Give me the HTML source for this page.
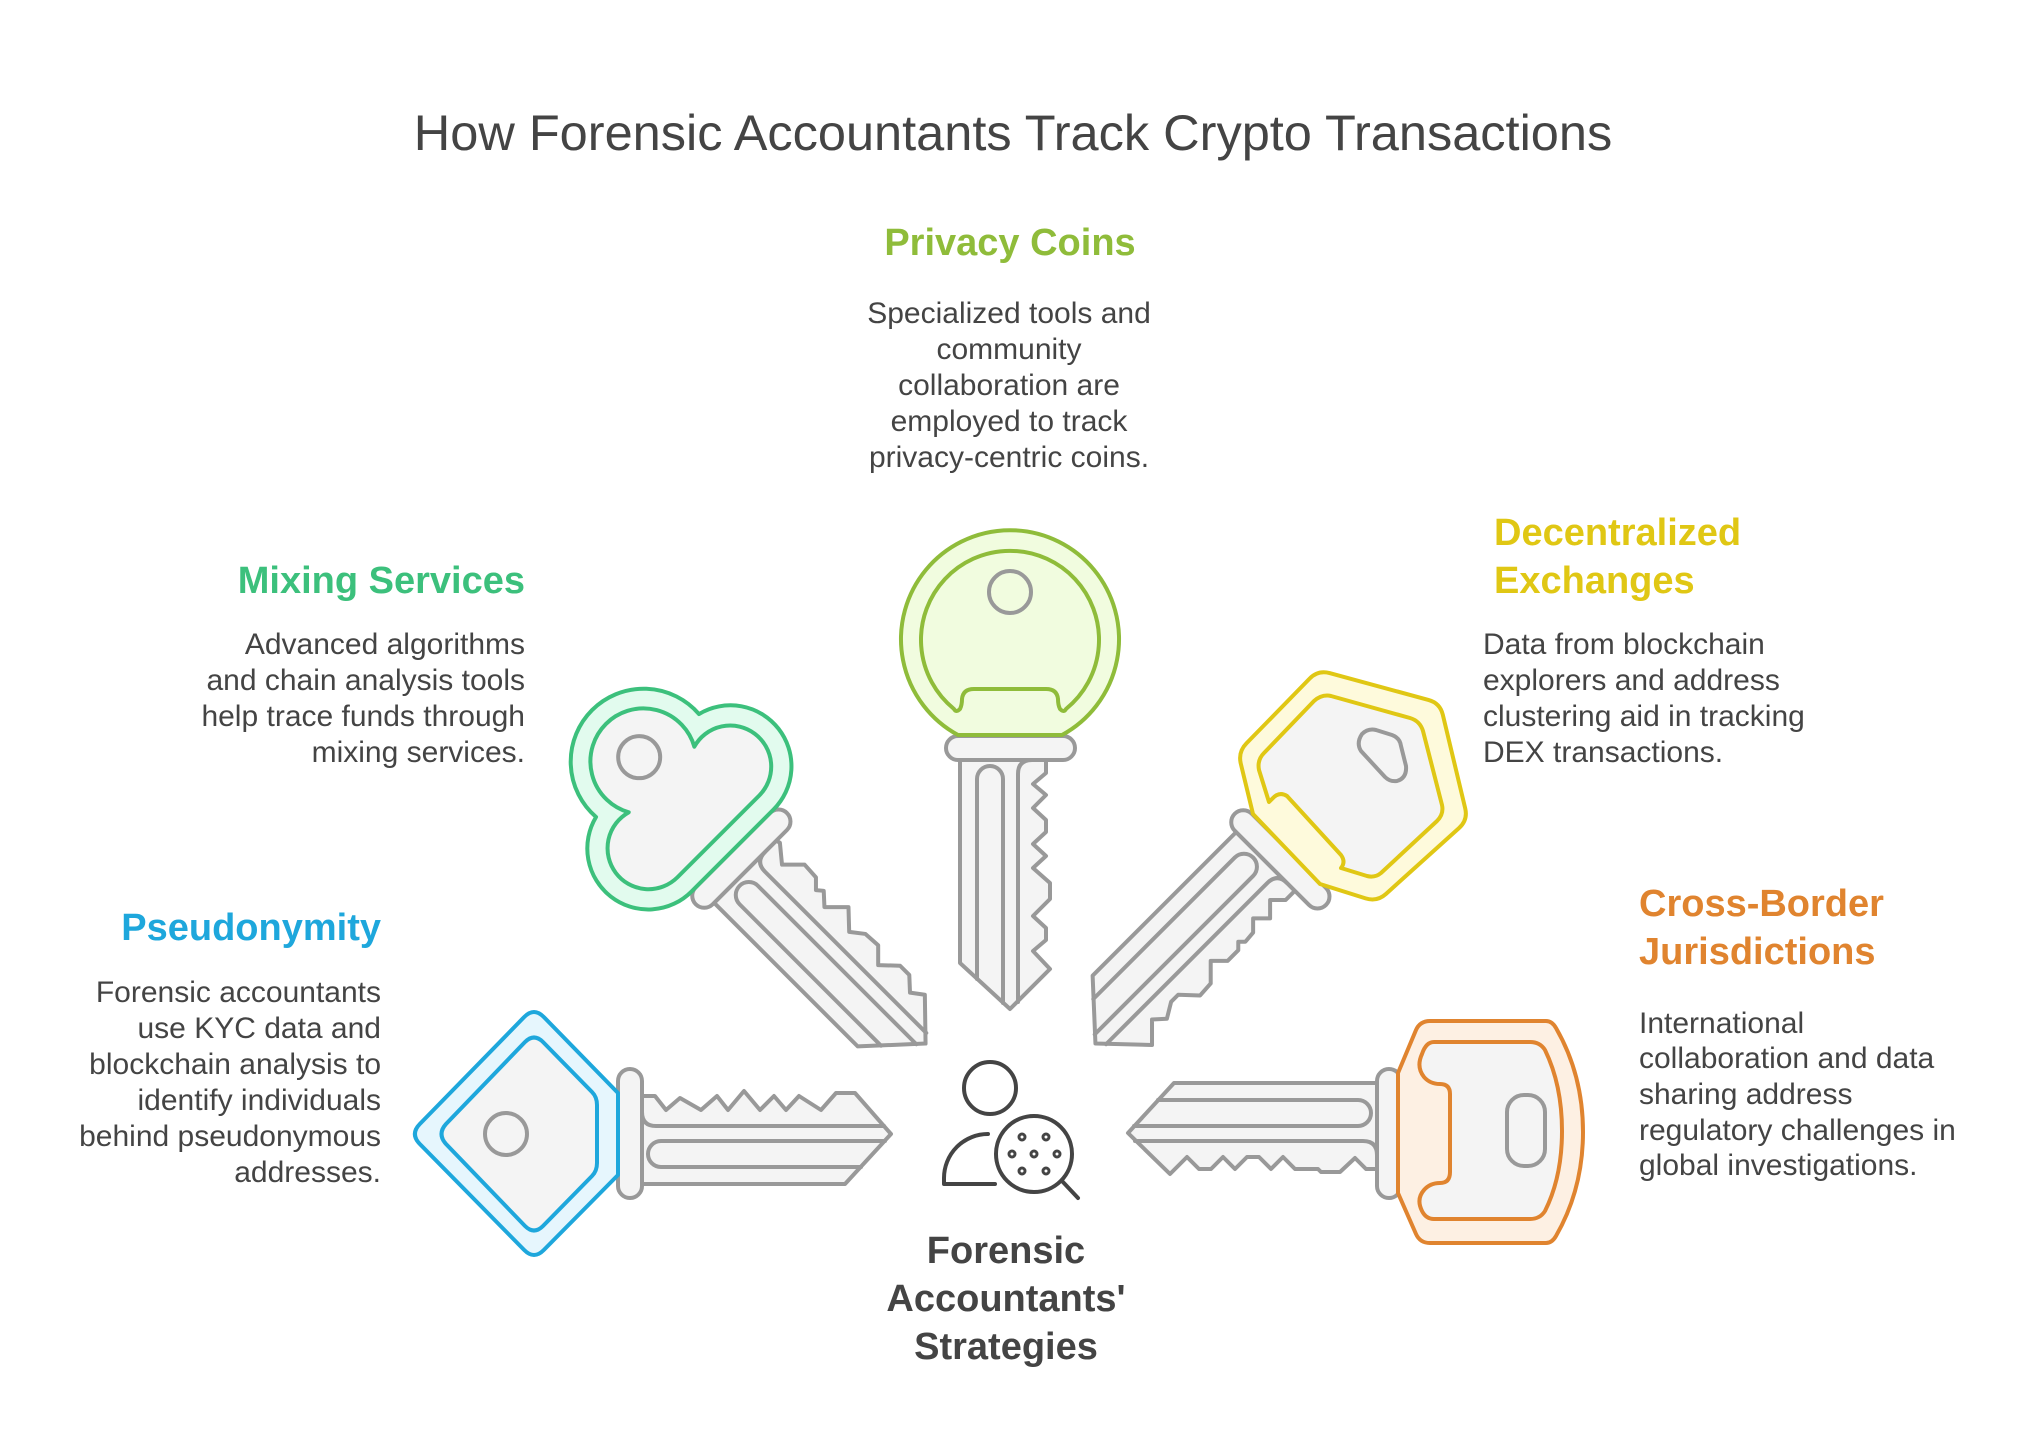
<!DOCTYPE html>
<html>
<head>
<meta charset="utf-8">
<style>
html,body{margin:0;padding:0;background:#ffffff;}
svg{display:block;}
text{font-family:"Liberation Sans",Arial,sans-serif;}
.t{fill:#444444;font-size:30px;}
.h{font-size:38px;font-weight:bold;}
.bl{fill:#f4f4f4;stroke:#999999;stroke-width:4;stroke-linejoin:round;stroke-linecap:round;}
.ln{fill:none;stroke:#999999;stroke-width:4;stroke-linejoin:round;stroke-linecap:round;}
.ic{fill:none;stroke:#444444;stroke-width:4;stroke-linecap:round;stroke-linejoin:round;}
</style>
</head>
<body>
<svg width="2022" height="1444" viewBox="0 0 2022 1444" xmlns="http://www.w3.org/2000/svg">
<rect width="2022" height="1444" fill="#ffffff"/>

<!-- Title -->
<text x="1013" y="150" text-anchor="middle" font-size="50.5" fill="#444444">How Forensic Accountants Track Crypto Transactions</text>

<!-- Privacy Coins text -->
<text class="h" x="1010" y="255" text-anchor="middle" fill="#8fbc3a">Privacy Coins</text>
<text class="t" text-anchor="middle"><tspan x="1009" y="323">Specialized tools and</tspan><tspan x="1009" y="359">community</tspan><tspan x="1009" y="395">collaboration are</tspan><tspan x="1009" y="431">employed to track</tspan><tspan x="1009" y="467">privacy-centric coins.</tspan></text>

<!-- Mixing Services text -->
<text class="h" x="525" y="593" text-anchor="end" fill="#3cc07c">Mixing Services</text>
<text class="t" text-anchor="end"><tspan x="525" y="654">Advanced algorithms</tspan><tspan x="525" y="690">and chain analysis tools</tspan><tspan x="525" y="726">help trace funds through</tspan><tspan x="525" y="762">mixing services.</tspan></text>

<!-- Pseudonymity text -->
<text class="h" x="381" y="940" text-anchor="end" fill="#1ea7dc">Pseudonymity</text>
<text class="t" text-anchor="end"><tspan x="381" y="1002">Forensic accountants</tspan><tspan x="381" y="1038">use KYC data and</tspan><tspan x="381" y="1074">blockchain analysis to</tspan><tspan x="381" y="1110">identify individuals</tspan><tspan x="381" y="1146">behind pseudonymous</tspan><tspan x="381" y="1182">addresses.</tspan></text>

<!-- Decentralized Exchanges text -->
<text class="h" fill="#e0c714"><tspan x="1494" y="545">Decentralized</tspan><tspan x="1494" y="593">Exchanges</tspan></text>
<text class="t"><tspan x="1483" y="654">Data from blockchain</tspan><tspan x="1483" y="690">explorers and address</tspan><tspan x="1483" y="726">clustering aid in tracking</tspan><tspan x="1483" y="762">DEX transactions.</tspan></text>

<!-- Cross-Border text -->
<text class="h" fill="#e0842f"><tspan x="1639" y="916">Cross-Border</tspan><tspan x="1639" y="964">Jurisdictions</tspan></text>
<text class="t"><tspan x="1639" y="1033">International</tspan><tspan x="1639" y="1068">collaboration and data</tspan><tspan x="1639" y="1104">sharing address</tspan><tspan x="1639" y="1140">regulatory challenges in</tspan><tspan x="1639" y="1175">global investigations.</tspan></text>

<!-- Center label -->
<text class="h" fill="#444444" text-anchor="middle"><tspan x="1006" y="1263">Forensic</tspan><tspan x="1006" y="1311">Accountants'</tspan><tspan x="1006" y="1359">Strategies</tspan></text>

<!-- Center icon -->
<circle class="ic" cx="990" cy="1088" r="26"/>
<path class="ic" d="M988,1134 A44,44 0 0 0 944,1178 L944,1184 L995,1184"/>
<circle class="ic" cx="1034" cy="1154" r="38"/>
<line class="ic" x1="1062" y1="1181" x2="1078" y2="1198"/>
<g fill="none" stroke="#444444" stroke-width="3">
<circle cx="1022" cy="1137" r="3"/><circle cx="1046" cy="1137" r="3"/>
<circle cx="1012" cy="1154" r="3"/><circle cx="1034" cy="1154" r="3"/><circle cx="1057" cy="1154" r="3"/>
<circle cx="1022" cy="1171" r="3"/><circle cx="1046" cy="1171" r="3"/>
</g>

<!-- ============ BLUE KEY (Pseudonymity) ============ -->
<g transform="translate(630,1134)">
<path class="bl" d="M12,-38 L25,-38 L36,-24 L50,-36 L71,-24 L87,-38 L98,-24 L114,-43 L130,-24 L144,-38 L156,-24 L169,-38 L191,-24 L206,-41 L225,-41 L261,0 L215,50 L12,50 Z"/>
<path class="ln" d="M12,-22 Q12,-8 26,-8 L254,-8"/>
<path class="ln" d="M255,7 L31,7 A13,13 0 0 0 31,33 L231,33"/>
<rect class="bl" x="-12" y="-65" width="24" height="129" rx="12"/>
</g>
<path d="M419.8,1124 L524.2,1017 Q534,1007 543.8,1017 L618,1093 L618,1175 L543.8,1250 Q534,1260 524.2,1250 L419.8,1144 Q410,1134 419.8,1124 Z" fill="#e6f6fd" stroke="#1ea7dc" stroke-width="4" stroke-linejoin="round"/>
<path d="M446,1124 L525,1042 Q534,1033 543,1042 L592,1092 Q597,1097 597,1105 L597,1163 Q597,1171 592,1176 L543,1226 Q534,1235 525,1226 L446,1144 Q437,1134 446,1124 Z" fill="#f4f4f4" stroke="#1ea7dc" stroke-width="4" stroke-linejoin="round"/>
<circle cx="506" cy="1134" r="21" fill="none" stroke="#999999" stroke-width="4"/>

<!-- ============ GREEN KEY (Mixing Services) ============ -->
<g transform="translate(741,859) rotate(45)">
<path class="bl" d="M12,-38 L16,-39 L33,-25 L49,-41 L66,-40 L75,-31 L81,-36 L93,-25 L110,-42 L128,-25 L141,-35 L158,-36 L172,-22 L188,-37 L201,-37 L214,-25 L226,-34 L261,0 L215,50 L12,50 Z"/>
<path class="ln" d="M12,-22 Q12,-8 26,-8 L254,-8"/>
<path class="ln" d="M255,7 L31,7 A13,13 0 0 0 31,33 L231,33"/>
<rect class="bl" x="-12" y="-65" width="24" height="129" rx="12"/>
<path d="M-12,58 L-12,-58 A61,61 0 0 0 -132.2,-72.8 A73,73 0 1 0 -132.2,72.8 A61,61 0 0 0 -12,58 Z" fill="#e2fbee" stroke="#3cc07c" stroke-width="4" stroke-linejoin="round"/>
<path d="M-32,58 L-32,-58 A41,41 0 1 0 -112.4,-46.4 A53,53 0 1 0 -112.4,46.4 A41,41 0 1 0 -32,58 Z" fill="#f4f4f4" stroke="#3cc07c" stroke-width="4" stroke-linejoin="round"/>
<circle cx="-144" cy="0" r="21" fill="none" stroke="#999999" stroke-width="4"/>
</g>

<!-- ============ LIME KEY (Privacy Coins) ============ -->
<g transform="translate(1010,748) rotate(90)">
<path class="bl" d="M12,-36 L25,-36 L36,-23 L47,-36 L60,-23 L72,-36 L84,-36 L96,-23 L108,-36 L120,-23 L135,-40 L151,-40 L168,-23 L180,-36 L192,-36 L203,-23 L221,-40 L261,0 L215,50 L12,50 Z"/>
<path class="ln" d="M12,-22 Q12,-8 26,-8 L254,-8"/>
<path class="ln" d="M255,7 L31,7 A13,13 0 0 0 31,33 L231,33"/>
<rect class="bl" x="-12" y="-65" width="24" height="129" rx="12"/>
</g>
<path d="M958,735 A109,109 0 1 1 1062,735 Z" fill="#f1fcdf" stroke="#8fbc3a" stroke-width="4" stroke-linejoin="round"/>
<path d="M954,709 A89,89 0 1 1 1066,709 Q1064,713 1060,709 Q1058,705 1058,699 Q1057,689 1046,689 L974,689 Q963,689 962,699 Q962,705 960,709 Q956,713 954,709 Z" fill="#f1fcdf" stroke="#8fbc3a" stroke-width="4" stroke-linejoin="round"/>
<circle cx="1010" cy="592" r="21" fill="none" stroke="#999999" stroke-width="4"/>

<!-- ============ YELLOW KEY (Decentralized Exchanges) ============ -->
<g transform="translate(1280,859) rotate(135)">
<path class="bl" d="M12,-33 L25,-33 L36,-22 L49,-35 L61,-23 L71,-33 L83,-34 L88,-29 L94,-35 L109,-35 L121,-23 L137,-39 L153,-40 L168,-24 L178,-24 L193,-33 L204,-23 L222,-41 L261,0 L215,50 L12,50 Z"/>
<path class="ln" d="M12,-22 Q12,-8 26,-8 L254,-8"/>
<path class="ln" d="M255,7 L31,7 A13,13 0 0 0 31,33 L231,33"/>
<rect class="bl" x="-12" y="-65" width="24" height="129" rx="12"/>
</g>
<path d="M1246.4,743.4 L1309.6,678.6 Q1318,670 1329.6,673.1 L1428.4,699.9 Q1440,703 1442.8,714.7 L1465.2,808.3 Q1468,820 1459.1,828 L1385.9,894 Q1377,902 1365.6,898.4 L1320,884 L1253,814 L1240.8,763.7 Q1238,752 1246.4,743.4 Z" fill="#fefadc" stroke="#e0c714" stroke-width="4" stroke-linejoin="round"/>
<path d="M1259,770 Q1257,760 1264,753 L1314,701 Q1322,694 1331,696 L1410,718 Q1420,721 1423,731 L1442,805 Q1444,814 1437,821 L1381,873 Q1375,878 1367,876 L1341,868 Q1346,862 1341,855 L1287,796 Q1279,791 1272,799 L1269,802 Z" fill="#f4f4f4" stroke="#e0c714" stroke-width="4" stroke-linejoin="round"/>
<path d="M1362,734 Q1368,728 1376,730 L1392,735 Q1400,738 1401,746 L1406,766 Q1407,778 1397,781 Q1390,782 1385,777 L1361,751 Q1356,743 1362,734 Z" fill="none" stroke="#999999" stroke-width="4" stroke-linejoin="round"/>

<!-- ============ ORANGE KEY (Cross-Border) ============ -->
<g transform="translate(1389,1133) rotate(180)">
<path class="bl" d="M12,-36 L23,-36 L34,-25 L49,-39 L68,-39 L71,-36 L94,-36 L106,-24 L118,-36 L130,-24 L142,-24 L154,-36 L166,-24 L178,-36 L190,-36 L202,-24 L219,-41 L261,0 L215,50 L12,50 Z"/>
<path class="ln" d="M12,-22 Q12,-8 26,-8 L254,-8"/>
<path class="ln" d="M255,7 L31,7 A13,13 0 0 0 31,33 L231,33"/>
<rect class="bl" x="-12" y="-65" width="24" height="129" rx="12"/>
</g>
<path d="M1398,1073 L1416,1030 Q1420,1021 1430,1021 L1546,1021 Q1552,1021 1556,1028 Q1583,1075 1583,1132 Q1583,1189 1556,1236 Q1552,1243 1546,1243 L1430,1243 Q1420,1243 1416,1234 L1398,1193 Z" fill="#fdf0e3" stroke="#e0842f" stroke-width="4" stroke-linejoin="round"/>
<path d="M1434,1042 L1530,1042 Q1540,1042 1545,1050 Q1562,1085 1562,1131 Q1562,1177 1545,1211 Q1540,1219 1530,1219 L1434,1219 Q1426,1219 1422,1211 Q1416,1199 1424,1190 Q1430,1183 1440,1183 Q1450,1183 1450,1172 L1450,1094 Q1450,1084 1440,1084 Q1430,1084 1424,1077 Q1416,1067 1422,1054 Q1426,1042 1434,1042 Z" fill="#f4f4f4" stroke="#e0842f" stroke-width="4" stroke-linejoin="round"/>
<rect x="1507" y="1095" width="38" height="71" rx="17" fill="none" stroke="#999999" stroke-width="4"/>

</svg>
</body>
</html>
